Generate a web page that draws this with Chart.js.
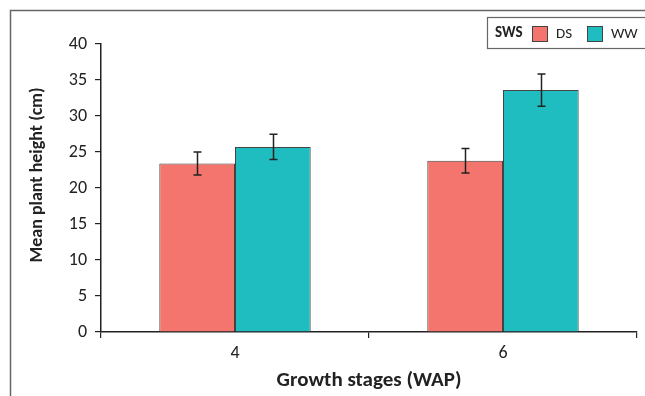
<!DOCTYPE html>
<html><head><meta charset="utf-8">
<script src="https://cdn.jsdelivr.net/npm/chart.js@4/dist/chart.umd.min.js"></script>
<style>html,body{margin:0;padding:0;background:#fff}#wrap{width:645px;height:396px;position:relative}</style>
</head><body><div id="wrap"><canvas id="c" width="645" height="396"></canvas></div>
<script>
const categories = ['4', '6'];
const seriesNames = ['DS', 'WW'];
const dsValues = [23.4, 23.8];
const wwValues = [25.7, 33.6];
const dsErrors = [1.6, 1.7];
const wwErrors = [1.75, 2.25];
const yTicks = [0, 5, 10, 15, 20, 25, 30, 35, 40];
const legendTitle = 'SWS';
const xTitle = 'Growth stages (WAP)';
const yTitle = 'Mean plant height (cm)';

const FONT = "Carlito, Lato, 'Liberation Sans', sans-serif";
const colors = ['#F4756E', '#1FBCC0'];
const errs = [dsErrors, wwErrors];

const decor = {
  id: 'decor',
  beforeDraw(chart) {
    const ctx = chart.ctx;
    ctx.save();
    ctx.strokeStyle = '#666';
    ctx.lineWidth = 1.5;
    ctx.beginPath();
    ctx.moveTo(10.5, 396); ctx.lineTo(10.5, 10.5); ctx.lineTo(645, 10.5);
    ctx.stroke();
    ctx.restore();
  },
  afterDraw(chart) {
    const ctx = chart.ctx;
    const y = chart.scales.y;
    ctx.save();
    ctx.strokeStyle = '#222';
    ctx.lineWidth = 1.5;
    chart.data.datasets.forEach((ds, di) => {
      const meta = chart.getDatasetMeta(di);
      meta.data.forEach((bar, i) => {
        const v = ds.data[i], e = errs[di][i];
        const x = Math.round(bar.x) + 0.5;
        const yt = y.getPixelForValue(v + e), yb = y.getPixelForValue(v - e);
        ctx.beginPath();
        ctx.moveTo(x, yt); ctx.lineTo(x, yb);
        ctx.moveTo(x - 4, yt); ctx.lineTo(x + 4, yt);
        ctx.moveTo(x - 4, yb); ctx.lineTo(x + 4, yb);
        ctx.stroke();
      });
    });
    ctx.fillStyle = '#222';
    ctx.textAlign = 'center';
    ctx.textBaseline = 'middle';
    ctx.font = "bold 21px " + FONT;
    ctx.fillText(xTitle, 369, 381);
    ctx.font = "bold 18px " + FONT;
    ctx.translate(37, 175);
    ctx.rotate(-Math.PI / 2);
    ctx.fillText(yTitle, 0, 0);
    ctx.setTransform(1, 0, 0, 1, 0, 0);
    ctx.fillStyle = '#fff';
    ctx.fillRect(487, 17.5, 160, 31);
    ctx.strokeStyle = '#666';
    ctx.lineWidth = 1.2;
    ctx.strokeRect(487.5, 17.5, 160, 31);
    ctx.fillStyle = '#222';
    ctx.font = "bold 15px " + FONT;
    ctx.textAlign = 'left';
    ctx.fillText(legendTitle, 495, 33.5);
    const lx = [532, 587];
    seriesNames.forEach((n, i) => {
      ctx.fillStyle = colors[i];
      ctx.fillRect(lx[i], 26, 15, 15);
      ctx.strokeStyle = '#444';
      ctx.lineWidth = 1;
      ctx.strokeRect(lx[i] + 0.5, 26.5, 15, 15);
      ctx.fillStyle = '#222';
      ctx.font = "15px " + FONT;
      ctx.fillText(n, lx[i] + 24, 34);
    });
    ctx.restore();
  }
};

new Chart(document.getElementById('c'), {
  type: 'bar',
  data: {
    labels: categories,
    datasets: [
      { label: seriesNames[0], data: dsValues, backgroundColor: colors[0], borderColor: '#444', borderWidth: 1 },
      { label: seriesNames[1], data: wwValues, backgroundColor: colors[1], borderColor: '#444', borderWidth: 1 }
    ]
  },
  options: {
    responsive: false,
    animation: false,
    devicePixelRatio: 1,
    layout: { padding: { top: 44, right: 8, left: 0, bottom: 0 } },
    categoryPercentage: 0.565,
    barPercentage: 1,
    plugins: { legend: { display: false }, tooltip: { enabled: false } },
    scales: {
      x: {
        offset: true,
        grid: { offset: true, drawOnChartArea: false, drawTicks: true, tickLength: 6, color: '#222', lineWidth: 1.2 },
        border: { display: true, color: '#222', width: 1.5 },
        ticks: { color: '#222', font: { size: 18, family: FONT }, padding: 5 },
        afterFit(s) { s.height = 64; }
      },
      y: {
        min: 0, max: 40,
        afterBuildTicks(s) { s.ticks = yTicks.map(v => ({ value: v })); },
        grid: { drawOnChartArea: false, drawTicks: true, tickLength: 6, color: '#222', lineWidth: 1.2 },
        border: { display: true, color: '#222', width: 1.5 },
        ticks: { color: '#222', font: { size: 18, family: FONT }, padding: 8 },
        afterFit(s) { s.width = 101; }
      }
    }
  },
  plugins: [decor]
});
</script></body></html>
